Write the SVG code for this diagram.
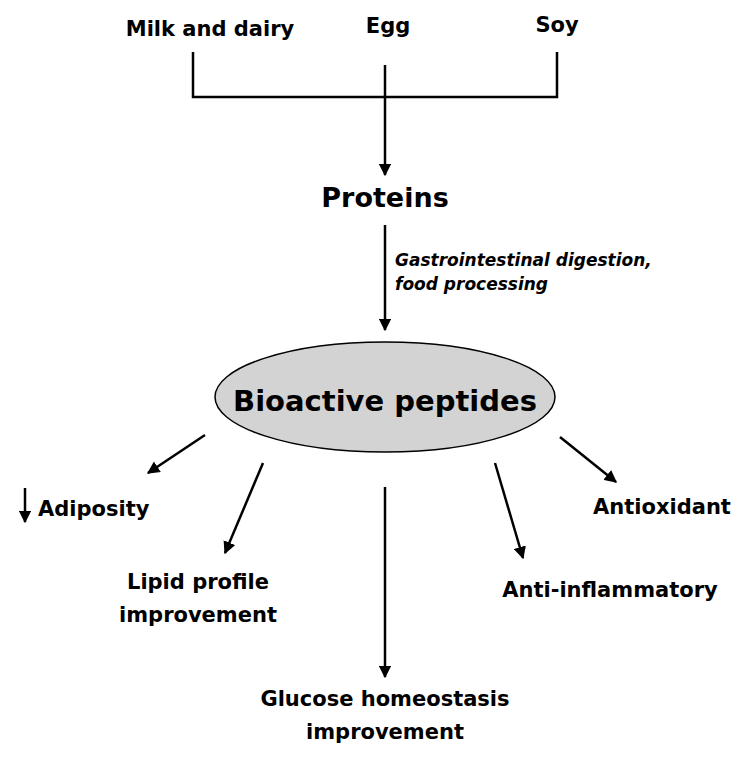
<svg xmlns="http://www.w3.org/2000/svg" width="750" height="757" viewBox="0 0 750 757">
<style>
text{font-family:"DejaVu Sans","Liberation Sans",Arial,sans-serif;font-weight:bold;fill:#000;text-anchor:middle}
.t{font-size:21px}
.c line,.c path{stroke:#000;stroke-width:2.5;fill:none}
</style>
<defs><marker id="a" viewBox="0 0 10 10" refX="9" refY="5" markerWidth="5" markerHeight="5" orient="auto"><path d="M0,0L10,5L0,10z" fill="#000"/></marker></defs>
<rect width="750" height="757" fill="#fff"/>
<g id="milk"><text class="t" x="210" y="36">Milk and dairy</text></g>
<g id="egg"><text class="t" x="388" y="33">Egg</text></g>
<g id="soy"><text class="t" x="557" y="32">Soy</text></g>
<g id="proteins"><text x="385" y="207" font-size="27">Proteins</text></g>
<g id="digestion"><text x="395" y="266" font-size="17" font-style="italic" style="text-anchor:start">Gastrointestinal digestion,</text><text x="395" y="290" font-size="17" font-style="italic" style="text-anchor:start">food processing</text></g>
<g id="peptides"><ellipse cx="385" cy="397" rx="170" ry="55" fill="#d3d3d3" stroke="#000" stroke-width="1.5"/><text x="385" y="411" font-size="29">Bioactive peptides</text></g>
<g id="adiposity"><text class="t" x="38" y="516" style="text-anchor:start">Adiposity</text></g>
<g id="lipid"><text class="t" x="198" y="589">Lipid profile</text><text class="t" x="198" y="622">improvement</text></g>
<g id="glucose"><text class="t" x="385" y="706">Glucose homeostasis</text><text class="t" x="385" y="739">improvement</text></g>
<g id="antiinfl"><text class="t" x="610" y="597">Anti-inflammatory</text></g>
<g id="antiox"><text class="t" x="662" y="514">Antioxidant</text></g>
<g class="c" id="connectors">
<path d="M193,52V97H557V52"/>
<line x1="385" y1="65" x2="385" y2="175" marker-end="url(#a)"/>
<line x1="385" y1="225" x2="385" y2="330" marker-end="url(#a)"/>
<line x1="205" y1="435" x2="148" y2="473" marker-end="url(#a)"/>
<line x1="263" y1="463" x2="225" y2="553" marker-end="url(#a)"/>
<line x1="385" y1="487" x2="385" y2="677" marker-end="url(#a)"/>
<line x1="495" y1="463" x2="523" y2="558" marker-end="url(#a)"/>
<line x1="560" y1="437" x2="616" y2="482" marker-end="url(#a)"/>
<line x1="25" y1="488" x2="25" y2="522" marker-end="url(#a)"/>
</g>
</svg>
